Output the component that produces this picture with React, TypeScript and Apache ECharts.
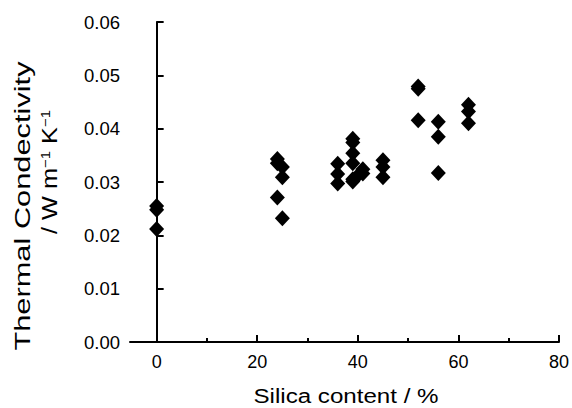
import React, { useEffect, useRef } from "react";
import * as echarts from "echarts";

const silica: number[] = [
  0, 0, 0,
  24, 24, 25, 25, 24, 25,
  36, 36, 36,
  39, 39, 39, 39, 39, 39,
  40, 41, 41,
  45, 45, 45,
  52, 52, 52,
  56, 56, 56,
  62, 62, 62,
];
const conductivity: number[] = [
  0.0255, 0.0248, 0.0212,
  0.0343, 0.0335, 0.0328, 0.0309, 0.0271, 0.0232,
  0.0334, 0.0315, 0.0297,
  0.0381, 0.0374, 0.0354, 0.0335, 0.0305, 0.0301,
  0.0312, 0.0324, 0.0316,
  0.0341, 0.0328, 0.0309,
  0.0479, 0.0475, 0.0416,
  0.0413, 0.0385, 0.0317,
  0.0445, 0.0432, 0.041,
];
const xMajorTicks: number[] = [0, 20, 40, 60, 80];
const xMinorTicks: number[] = [10, 30, 50, 70];
const xTitle = "Silica content / %";
const yTitle1 = "Thermal Condectivity";
const yTitle2 = "/ W m{sup|−1} K{sup|−1}";

const FONT = "Liberation Sans, Arial, Helvetica, sans-serif";

export default function App() {
  const ref = useRef<HTMLDivElement>(null);
  useEffect(() => {
    if (!ref.current) return;
    const chart = echarts.init(ref.current, null, { renderer: "svg" });
    const data = silica.map((s, i) => [s, conductivity[i]]);
    chart.setOption({
      animation: false,
      backgroundColor: "#ffffff",
      grid: { left: 130, right: 10, top: 22, bottom: 66, containLabel: false },
      xAxis: [
        {
          type: "value",
          min: -5.3,
          max: 80,
          position: "bottom",
          splitLine: { show: false },
          axisLine: { show: true, onZero: false, lineStyle: { color: "#000", width: 2 } },
          axisTick: { show: true, inside: true, length: 7, customValues: xMajorTicks, lineStyle: { color: "#000", width: 2 } },
          axisLabel: { customValues: xMajorTicks, color: "#000", fontSize: 18, fontFamily: FONT, margin: 11 },
        },
        {
          type: "value",
          min: -5.3,
          max: 80,
          position: "bottom",
          offset: 0,
          splitLine: { show: false },
          axisLine: { show: false },
          axisTick: { show: true, inside: true, length: 4, customValues: xMinorTicks, lineStyle: { color: "#000", width: 2 } },
          axisLabel: { show: false },
        },
      ],
      yAxis: {
        type: "value",
        min: 0,
        max: 0.06,
        interval: 0.01,
        splitLine: { show: false },
        axisLine: { show: true, lineStyle: { color: "#000", width: 2 } },
        axisTick: { show: true, inside: true, length: 7, lineStyle: { color: "#000", width: 2 } },
        axisLabel: {
          color: "#000",
          fontSize: 18.5,
          fontFamily: FONT,
          margin: 10,
          formatter: (v: number) => v.toFixed(2),
        },
      },
      graphic: [
        {
          type: "text",
          x: 346,
          y: 396,
          scaleX: 1.15,
          style: { text: xTitle, fontSize: 21, fontFamily: FONT, fill: "#000", align: "center", verticalAlign: "middle" },
        },
        {
          type: "text",
          x: 23,
          y: 206,
          rotation: Math.PI / 2,
          scaleX: 1.4,
          style: { text: yTitle1, fontSize: 22, fontFamily: FONT, fill: "#000", align: "center", verticalAlign: "middle" },
        },
        {
          type: "text",
          x: 50,
          y: 172,
          rotation: Math.PI / 2,
          scaleX: 1.15,
          style: {
            text: yTitle2,
            fontSize: 22,
            fontFamily: FONT,
            fill: "#000",
            align: "center",
            verticalAlign: "middle",
            rich: {
              sup: { fontSize: 13, fontFamily: FONT, fill: "#000", verticalAlign: "top" },
            },
          },
        },
      ],
      series: [
        {
          type: "scatter",
          xAxisIndex: 0,
          yAxisIndex: 0,
          symbol: "diamond",
          symbolSize: [15, 16],
          itemStyle: { color: "#000", opacity: 1 },
          data,
        },
      ],
    });
    return () => chart.dispose();
  }, []);
  return <div ref={ref} style={{ width: 572, height: 408, position: "absolute", left: 0, top: 0 }} />;
}
